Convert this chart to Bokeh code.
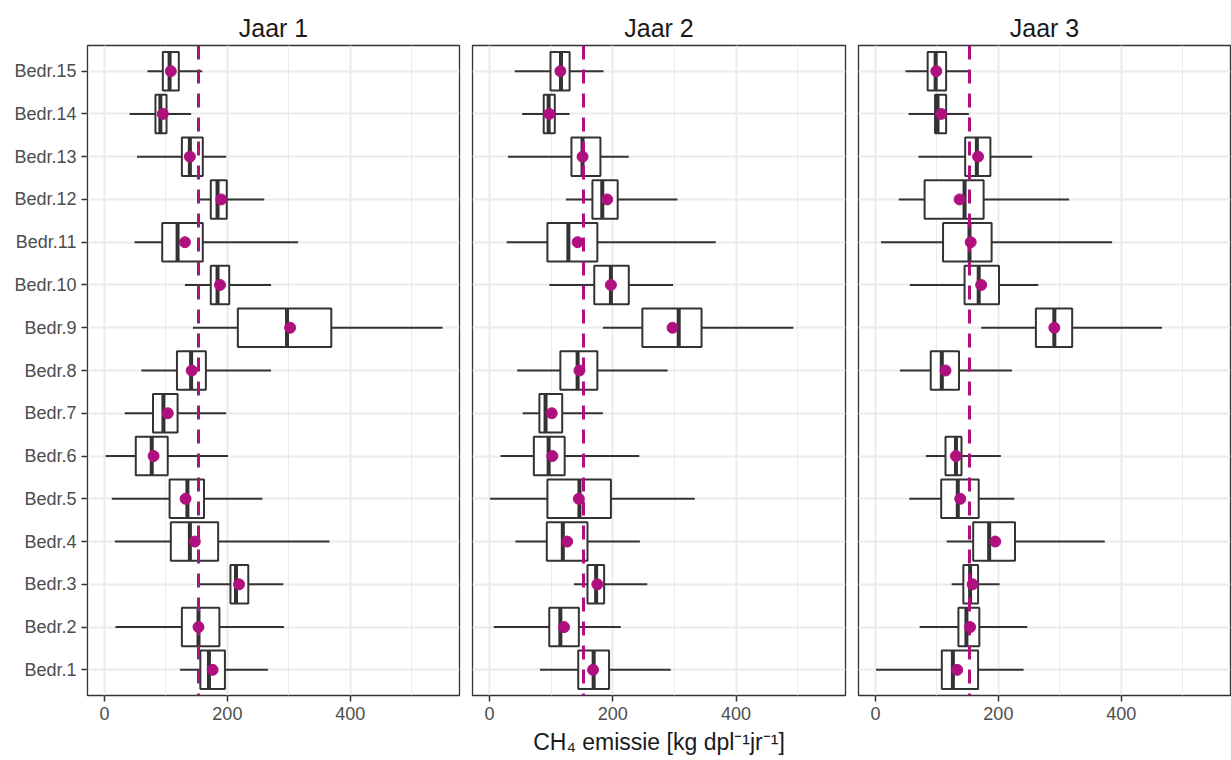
from bokeh.plotting import figure
from bokeh.layouts import row
from bokeh.models import FactorRange, Range1d, FixedTicker, ColumnDataSource
from bokeh.embed import file_html
from bokeh.resources import INLINE

# ---------------- data ----------------
companies = ["Bedr.%d" % i for i in range(1, 16)]
years = ["Jaar 1", "Jaar 2", "Jaar 3"]
reference_line = [153]

# per year, in company order Bedr.1 .. Bedr.15 (None = no data)
j1_low  = [123, 18, 155, 17, 12, 2, 33, 60, 144, 131, 49, 152, 53, 41, 70]
j1_q1   = [156, 126, 205, 108, 106, 51, 79, 118, 217, 173, 94, 173, 126, 83, 95]
j1_med  = [170, 153, 214, 139, 135, 77, 96, 141, 297, 184, 119, 184, 139, 91, 106]
j1_q3   = [196, 187, 234, 185, 162, 103, 119, 165, 369, 203, 160, 199, 160, 101, 121]
j1_high = [266, 292, 291, 366, 257, 201, 198, 271, 550, 271, 315, 260, 198, 141, 159]
j1_mean = [176, 153, 219, 147, 132, 80, 103, 142, 302, 188, 131, 190, 139, 95, 108]

j2_low  = [82, 7, 137, 42, 1, 18, 54, 45, 184, 97, 28, 124, 30, 53, 41]
j2_q1   = [144, 97, 159, 93, 94, 72, 81, 115, 248, 170, 94, 167, 133, 88, 99]
j2_med  = [169, 115, 173, 119, 146, 96, 91, 143, 307, 197, 128, 183, 151, 96, 116]
j2_q3   = [194, 145, 186, 159, 197, 122, 118, 175, 344, 226, 175, 208, 180, 106, 130]
j2_high = [294, 213, 256, 244, 333, 243, 184, 289, 493, 298, 367, 305, 226, 130, 185]
j2_mean = [168, 121, 175, 126, 145, 102, 101, 146, 297, 197, 143, 191, 151, 97, 115]

j3_low  = [1, 72, 124, 116, 55, 82, None, 40, 172, 56, 9, 38, 70, 54, 49]
j3_q1   = [108, 135, 143, 159, 107, 114, None, 90, 261, 145, 110, 80, 146, 97, 85]
j3_med  = [126, 148, 154, 185, 134, 131, None, 108, 291, 168, 153, 145, 165, 101, 98]
j3_q3   = [167, 169, 167, 227, 168, 140, None, 136, 320, 201, 189, 176, 187, 115, 115]
j3_high = [241, 247, 202, 373, 226, 204, None, 222, 466, 265, 385, 315, 255, 152, 154]
j3_mean = [133, 154, 158, 195, 138, 131, None, 114, 291, 172, 155, 137, 167, 107, 99]

x_ticks = [0, 200, 400]
x_minor = [100, 300, 500]
x_label = "CH\u2084 emissie [kg dpl\u207b\u00b9jr\u207b\u00b9]"

year_data = [
    (j1_low, j1_q1, j1_med, j1_q3, j1_high, j1_mean),
    (j2_low, j2_q1, j2_med, j2_q3, j2_high, j2_mean),
    (j3_low, j3_q1, j3_med, j3_q3, j3_high, j3_mean),
]

# ---------------- style ----------------
FONT = "Liberation Sans"
MAG = "#B0107F"
DARK = "#333333"
GRID = "#EBEBEB"

borders = [(87, 6, 465), (7, 6, 386), (7, 1, 380)]
y_range = FactorRange(factors=companies, range_padding=0.1, range_padding_units="absolute")
x_range = Range1d(-27.5, 577.5)

figs = []
for k, (yr, data, (bl, br, w)) in enumerate(zip(years, year_data, borders)):
    low, q1, med, q3, high, mean = data
    keep = [i for i in range(len(companies)) if med[i] is not None]
    src = ColumnDataSource(dict(
        y=[companies[i] for i in keep],
        low=[low[i] for i in keep], q1=[q1[i] for i in keep],
        med=[med[i] for i in keep], q3=[q3[i] for i in keep],
        high=[high[i] for i in keep], mean=[mean[i] for i in keep],
    ))
    p = figure(width=w, height=760, y_range=y_range, x_range=x_range,
               output_backend="svg", toolbar_location=None,
               min_border_left=bl, min_border_right=br,
               min_border_top=45, min_border_bottom=65,
               background_fill_color="white", border_fill_color="white")
    p.title.text = yr
    p.title.align = "center"
    p.title.text_font = FONT
    p.title.text_font_size = "25px"
    p.title.text_font_style = "normal"
    p.title.text_color = "#1A1A1A"
    p.title.standoff = 7

    p.outline_line_color = DARK
    p.outline_line_width = 1.3

    p.xaxis.ticker = FixedTicker(ticks=x_ticks, minor_ticks=x_minor)
    p.xgrid.minor_grid_line_color = GRID
    p.xgrid.minor_grid_line_width = 1
    p.xgrid.grid_line_color = GRID
    p.xgrid.grid_line_width = 2
    p.ygrid.grid_line_color = GRID
    p.ygrid.grid_line_width = 2

    for ax in (p.xaxis, p.yaxis):
        ax.axis_line_color = None
        ax.major_tick_line_color = DARK
        ax.major_tick_line_width = 1.5
        ax.major_tick_out = 6
        ax.major_tick_in = 0
        ax.minor_tick_line_color = None
        ax.major_label_text_font = FONT
        ax.major_label_text_font_size = "18px"
        ax.major_label_text_color = "#4D4D4D"
        ax.major_label_standoff = 5
    if k > 0:
        p.yaxis.visible = False
    if k == 1:
        p.xaxis.axis_label = x_label
        p.xaxis.axis_label_text_font = FONT
        p.xaxis.axis_label_text_font_size = "23px"
        p.xaxis.axis_label_text_font_style = "normal"
        p.xaxis.axis_label_text_color = "#1A1A1A"
        p.xaxis.axis_label_standoff = 6

    # whiskers
    p.segment(x0="low", y0="y", x1="q1", y1="y", source=src, line_color=DARK, line_width=2)
    p.segment(x0="q3", y0="y", x1="high", y1="y", source=src, line_color=DARK, line_width=2)
    # boxes
    p.hbar(y="y", left="q1", right="q3", height=0.9, source=src,
           fill_color="white", line_color=DARK, line_width=2)
    # medians
    p.rect(x="med", y="y", width=4, width_units="screen", height=0.9, source=src,
           fill_color=DARK, line_color=None)
    # reference dashed line
    p.vspan(x=reference_line, line_color=MAG, line_width=3, line_dash="14 10")
    # means
    p.scatter(x="mean", y="y", source=src, size=11, fill_color=MAG, line_color=MAG)

    figs.append(p)

layout = row(*figs)
open("out.html", "w").write(file_html(layout, INLINE))
